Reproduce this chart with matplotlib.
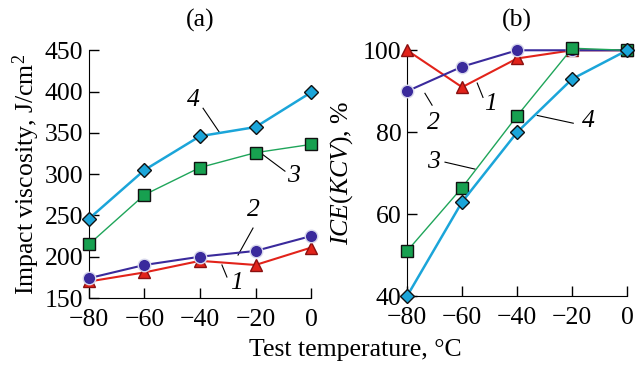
import matplotlib
matplotlib.use("Agg")
import matplotlib.pyplot as plt

plt.rcParams['font.family'] = ['Liberation Serif', 'DejaVu Serif']
plt.rcParams['mathtext.fontset'] = 'custom'
plt.rcParams['mathtext.rm'] = 'Liberation Serif'
plt.rcParams['mathtext.it'] = 'Liberation Serif:italic'
plt.rcParams['mathtext.bf'] = 'Liberation Serif:bold'

temps = [-80, -60, -40, -20, 0]

# Panel (a): impact viscosity, J/cm^2
kcv_1 = [170, 181, 195, 190, 211]
kcv_2 = [174, 190, 200, 207, 225]
kcv_3 = [215, 275, 308, 326, 336]
kcv_4 = [246, 305, 346, 357, 399]

# Panel (b): ICE(KCV), %
ice_1 = [100, 91, 98, 100, 100]
ice_2 = [90, 96, 100, 100, 100]
ice_3 = [51, 66.5, 84, 100.5, 100]
ice_4 = [40, 63, 80, 93, 100]

xticks = [-80, -60, -40, -20, 0]
yticks_a = [150, 200, 250, 300, 350, 400, 450]
yticks_b = [40, 60, 80, 100]

styles = {
    1: dict(color='#e2231a', marker='^', mfc='#e2231a', mec='#8a1010', lw=1.5, ms=9),
    2: dict(color='#3a2a9c', marker='o', mfc='#3a2a9c', mec='#d8d8ec', lw=1.5, ms=9),
    3: dict(color='#1fa55a', marker='s', mfc='#17a050', mec='#111111', lw=1.0, ms=8),
    4: dict(color='#1ba5d9', marker='D', mfc='#1ba5d9', mec='#111111', lw=1.8, ms=7.5),
}

fig = plt.figure(figsize=(6.4, 3.67), dpi=100)
axa = fig.add_axes([0.139, 0.188, 0.347, 0.675])
axb = fig.add_axes([0.636, 0.193, 0.344, 0.670])

fs = 18.5

def style_ax(ax, ylim, yticks):
    ax.set_xlim(-80, 0)
    ax.set_ylim(*ylim)
    ax.set_xticks(xticks)
    ax.set_yticks(yticks)
    ax.spines['top'].set_visible(False)
    ax.spines['right'].set_visible(False)
    ax.tick_params(direction='in', length=7, width=1, labelsize=fs, pad=4)
    ax.tick_params(axis='x', pad=8)

for k, ys in zip([1, 2, 3, 4], [kcv_1, kcv_2, kcv_3, kcv_4]):
    axa.plot(temps, ys, clip_on=False, zorder=3 + k * 0.1, mew=1, **styles[k])
style_ax(axa, (150, 450), yticks_a)
axa.set_ylabel('Impact viscosity, J/cm$^2$', fontsize=fs, labelpad=2)
axa.set_title('(a)', fontsize=fs, pad=17)

for k, ys in zip([2, 1, 3, 4], [ice_2, ice_1, ice_3, ice_4]):
    axb.plot(temps, ys, clip_on=False, zorder=3 + k * 0.1, mew=1, **styles[k])
style_ax(axb, (40, 100), yticks_b)
axb.set_ylabel(r'$\mathit{ICE}(\mathit{KCV})$, %', fontsize=fs, labelpad=6)
axb.set_title('(b)', fontsize=fs, pad=17)

fig.text(0.555, 0.045, 'Test temperature, °C', fontsize=fs, ha='center', va='center')

def lab(ax, txt, tx, ty, l0, l1):
    ax.text(tx, ty, txt, fontsize=fs, style='italic', ha='center', va='center')
    ax.plot([l0[0], l1[0]], [l0[1], l1[1]], color='black', lw=0.8, clip_on=False)

lab(axa, '4', -42.5, 389.5, (-38.9, 379.8), (-32.8, 349.6))
lab(axa, '3', -6.5, 297.6, (-17.6, 324.2), (-9.4, 303.6))
lab(axa, '2', -20.9, 256.5, (-20.9, 234.7), (-26.3, 202))
lab(axa, '1', -26.7, 168, (-32.1, 190), (-30.3, 175.4))

lab(axb, '2', -70.5, 82.2, (-73.5, 89.5), (-70.9, 86.6))
lab(axb, '1', -49.5, 86.8, (-54.5, 92), (-52.4, 88.5))
lab(axb, '4', -14.2, 82.7, (-32.7, 84.1), (-19.6, 82.2))
lab(axb, '3', -70.5, 72.7, (-66.2, 72.7), (-55.3, 71))

fig.savefig('out.png', dpi=100)
